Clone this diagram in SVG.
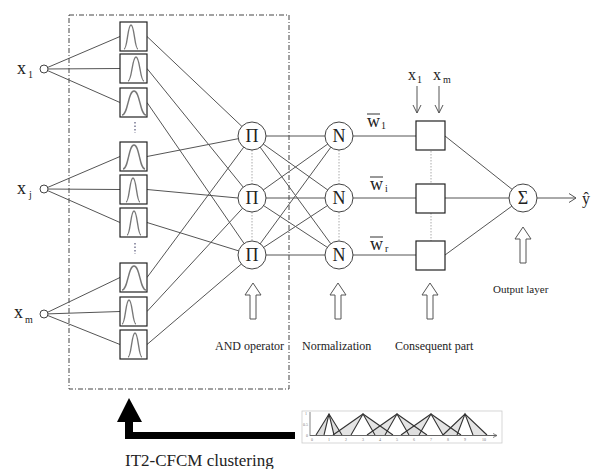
<svg xmlns="http://www.w3.org/2000/svg" width="598" height="469" viewBox="0 0 598 469">
<style>
.ln{stroke:#555;stroke-width:1;fill:none}
.dot{stroke:#aaa;stroke-width:1;stroke-dasharray:1.5,1.5;fill:none}
.node{fill:#fff;stroke:#444;stroke-width:1}
.mf{fill:#fff;stroke:#222;stroke-width:1.2}
.bell{fill:none;stroke:#777;stroke-width:1.4}
.hol{fill:#fff;stroke:#555;stroke-width:1}
text{font-family:"Liberation Serif","Times New Roman",serif;fill:#222}
.big{font-size:18px}
.sub{font-size:10px}
.lbl{font-size:12px}
.tick{font-size:4px;fill:#777}
</style>
<rect width="598" height="469" fill="#fff"/>
<rect x="69" y="15" width="220" height="374" fill="none" stroke="#444" stroke-width="1" stroke-dasharray="5,2,1,2"/>

<g id="connectors">
  <!-- inputs to MFs -->
  <line class="ln" x1="44" y1="69" x2="120" y2="36.5"/>
  <line class="ln" x1="44" y1="69" x2="120" y2="68.5"/>
  <line class="ln" x1="44" y1="69" x2="120" y2="102.5"/>
  <line class="ln" x1="44" y1="189" x2="120" y2="156.5"/>
  <line class="ln" x1="44" y1="189" x2="120" y2="189.5"/>
  <line class="ln" x1="44" y1="189" x2="120" y2="222.5"/>
  <line class="ln" x1="44" y1="314" x2="120" y2="277.5"/>
  <line class="ln" x1="44" y1="314" x2="120" y2="311.5"/>
  <line class="ln" x1="44" y1="314" x2="120" y2="344.5"/>
  <!-- MFs to Pi -->
  <line class="ln" x1="147" y1="36.5" x2="252" y2="136"/>
  <line class="ln" x1="147" y1="68.5" x2="252" y2="198"/>
  <line class="ln" x1="147" y1="102.5" x2="252" y2="255"/>
  <line class="ln" x1="147" y1="156.5" x2="252" y2="136"/>
  <line class="ln" x1="147" y1="189.5" x2="238" y2="198"/>
  <line class="ln" x1="147" y1="222.5" x2="252" y2="255"/>
  <line class="ln" x1="147" y1="277.5" x2="252" y2="136"/>
  <line class="ln" x1="147" y1="311.5" x2="252" y2="198"/>
  <line class="ln" x1="147" y1="344.5" x2="252" y2="255"/>
  <!-- Pi to N -->
  <line class="ln" x1="252" y1="136" x2="339" y2="136"/>
  <line class="ln" x1="252" y1="136" x2="339" y2="198"/>
  <line class="ln" x1="252" y1="136" x2="339" y2="255"/>
  <line class="ln" x1="252" y1="198" x2="339" y2="136"/>
  <line class="ln" x1="252" y1="198" x2="339" y2="198"/>
  <line class="ln" x1="252" y1="198" x2="339" y2="255"/>
  <line class="ln" x1="252" y1="255" x2="339" y2="136"/>
  <line class="ln" x1="252" y1="255" x2="339" y2="198"/>
  <line class="ln" x1="252" y1="255" x2="339" y2="255"/>
  <!-- N to consequent -->
  <line class="ln" x1="339" y1="136" x2="416" y2="136"/>
  <line class="ln" x1="339" y1="198" x2="416" y2="198"/>
  <line class="ln" x1="339" y1="255" x2="416" y2="255"/>
  <!-- consequent to sum -->
  <line class="ln" x1="445" y1="136" x2="523" y2="198"/>
  <line class="ln" x1="445" y1="198" x2="523" y2="198"/>
  <line class="ln" x1="445" y1="255" x2="523" y2="198"/>
  <!-- output -->
  <line class="ln" x1="537" y1="198" x2="576" y2="198"/>
  <polyline class="ln" points="569,193.5 576,198 569,202.5"/>
  <!-- inputs to consequent -->
  <line class="ln" x1="417" y1="86" x2="417" y2="113"/>
  <polyline class="ln" points="413,105 417,113 421,105"/>
  <line class="ln" x1="439" y1="86" x2="439" y2="113"/>
  <polyline class="ln" points="435,105 439,113 443,105"/>
  <!-- dotted vertical links -->
  <line class="dot" x1="252" y1="150" x2="252" y2="184"/>
  <line class="dot" x1="252" y1="212" x2="252" y2="241"/>
  <line class="dot" x1="339" y1="150" x2="339" y2="184"/>
  <line class="dot" x1="339" y1="212" x2="339" y2="241"/>
  <line class="dot" x1="431" y1="151" x2="431" y2="184"/>
  <line class="dot" x1="431" y1="213" x2="431" y2="241"/>
  <line x1="135" y1="122" x2="135" y2="133" stroke="#557" stroke-width="1.2" stroke-dasharray="1.5,2"/>
  <line x1="135" y1="243" x2="135" y2="254" stroke="#557" stroke-width="1.2" stroke-dasharray="1.5,2"/>
</g>

<g id="inputs">
  <circle class="node" cx="44" cy="69" r="4"/>
  <circle class="node" cx="44" cy="189" r="4"/>
  <circle class="node" cx="44" cy="314" r="4"/>
  <text class="big" x="17" y="74">x</text><text class="sub" x="28" y="78">1</text>
  <text class="big" x="17" y="194">x</text><text class="sub" x="29" y="198">j</text>
  <text class="big" x="14" y="318">x</text><text class="sub" x="25" y="323">m</text>
</g>

<g id="mf-layer">
  <rect class="mf" x="120" y="22" width="27" height="29"/>
  <path class="bell" d="M124,49 C127.5,49 127.5,25 131,25 C134.5,25 134.5,49 138,49"/>
  <rect class="mf" x="120" y="54" width="27" height="29"/>
  <path class="bell" d="M128,81 C132,81 132,57 136,57 C140,57 140,81 144,81"/>
  <rect class="mf" x="120" y="88" width="27" height="29"/>
  <path class="bell" d="M122,115 C128,115 128,91 134,91 C140,91 140,115 146,115"/>
  <rect class="mf" x="120" y="142" width="27" height="29"/>
  <path class="bell" d="M123,169 C128.5,169 128.5,145 134,145 C139.5,145 139.5,169 145,169"/>
  <rect class="mf" x="120" y="175" width="27" height="29"/>
  <path class="bell" d="M126,202 C129.5,202 129.5,178 133,178 C136.5,178 136.5,202 140,202"/>
  <rect class="mf" x="120" y="208" width="27" height="29"/>
  <path class="bell" d="M127,235 C130.5,235 130.5,211 134,211 C137.5,211 137.5,235 141,235"/>
  <rect class="mf" x="120" y="263" width="27" height="29"/>
  <path class="bell" d="M122,290 C128,290 128,266 134,266 C140,266 140,290 146,290"/>
  <rect class="mf" x="120" y="297" width="27" height="29"/>
  <path class="bell" d="M122,324 C125.5,324 125.5,300 129,300 C132.5,300 132.5,324 136,324"/>
  <rect class="mf" x="120" y="330" width="27" height="29"/>
  <path class="bell" d="M128,357 C131.5,357 131.5,333 135,333 C138.5,333 138.5,357 142,357"/>
</g>

<g id="and-layer">
  <circle class="node" cx="252" cy="136" r="14"/>
  <circle class="node" cx="252" cy="198" r="14"/>
  <circle class="node" cx="252" cy="255" r="14"/>
  <text class="big" x="252" y="142" text-anchor="middle" fill="#3a1c1c">Π</text>
  <text class="big" x="252" y="204" text-anchor="middle" fill="#3a1c1c">Π</text>
  <text class="big" x="252" y="261" text-anchor="middle" fill="#3a1c1c">Π</text>
</g>

<g id="norm-layer">
  <circle class="node" cx="339" cy="136" r="14"/>
  <circle class="node" cx="339" cy="198" r="14"/>
  <circle class="node" cx="339" cy="255" r="14"/>
  <text class="big" x="339" y="142" text-anchor="middle">N</text>
  <text class="big" x="339" y="204" text-anchor="middle">N</text>
  <text class="big" x="339" y="261" text-anchor="middle">N</text>
</g>

<g id="weights">
  <text class="big" x="367" y="127">w</text><line x1="367" y1="114" x2="380" y2="114" stroke="#333"/><text class="sub" x="381" y="129">1</text>
  <text class="big" x="370" y="190">w</text><line x1="370" y1="177" x2="383" y2="177" stroke="#333"/><text class="sub" x="385" y="192">i</text>
  <text class="big" x="370" y="250">w</text><line x1="370" y1="237" x2="383" y2="237" stroke="#333"/><text class="sub" x="385" y="252">r</text>
</g>

<g id="consequent-layer">
  <rect class="mf" x="416" y="121" width="29" height="29"/>
  <rect class="mf" x="416" y="184" width="29" height="29"/>
  <rect class="mf" x="416" y="241" width="29" height="29"/>
  <text x="408" y="80" style="font-size:16px">x</text><text class="sub" x="417" y="83">1</text>
  <text x="433" y="80" style="font-size:16px">x</text><text class="sub" x="443" y="83">m</text>
</g>

<g id="output-layer">
  <circle class="node" cx="523" cy="198" r="14"/>
  <text class="big" x="523" y="204" text-anchor="middle">Σ</text>
  <text x="582" y="204" style="font-size:16px">ŷ</text>
</g>

<g id="layer-arrows">
  <path class="hol" d="M253,283 L261,295 L256,295 L256,319 L250,319 L250,295 L245,295 Z"/>
  <path class="hol" d="M338,283 L346,295 L341,295 L341,319 L335,319 L335,295 L330,295 Z"/>
  <path class="hol" d="M430,283 L438,295 L433,295 L433,319 L427,319 L427,295 L422,295 Z"/>
  <path class="hol" d="M523,227 L531,239 L526,239 L526,263 L520,263 L520,239 L515,239 Z"/>
  <text class="lbl" x="215" y="350">AND operator</text>
  <text class="lbl" x="302" y="350">Normalization</text>
  <text class="lbl" x="395" y="350">Consequent part</text>
  <text class="lbl" x="493" y="293" style="font-size:11px">Output layer</text>
</g>

<g id="clustering">
  <path d="M125,439 L125,422 L117,422 L129,398 L142,422 L133,422 L133,432 L295,432 L295,439 Z" fill="#000"/>
  <text x="125" y="466" style="font-size:17px">IT2-CFCM clustering</text>
</g>

<g id="cluster-chart">
  <rect x="302" y="411" width="200" height="32" fill="#fff" stroke="#ccc" stroke-width="0.8"/>
  <path fill="#ddd" fill-rule="evenodd" stroke="none" d="M316,435 L329,414 L342,435 Z M324,435 L329,414 L334,435 Z"/>
  <path fill="#ddd" fill-opacity="0.8" fill-rule="evenodd" stroke="none" d="M333,435 L363,414 L393,435 Z M351,435 L363,414 L375,435 Z"/>
  <path fill="#ddd" fill-opacity="0.8" fill-rule="evenodd" stroke="none" d="M367,435 L397,414 L427,435 Z M385,435 L397,414 L409,435 Z"/>
  <path fill="#ddd" fill-opacity="0.8" fill-rule="evenodd" stroke="none" d="M401,435 L431,414 L461,435 Z M419,435 L431,414 L443,435 Z"/>
  <path fill="#ddd" fill-opacity="0.8" fill-rule="evenodd" stroke="none" d="M443,435 L465,414 L487,435 Z M457,435 L465,414 L473,435 Z"/>
  <g stroke="#333" stroke-width="1.1" fill="none">
    <polyline points="316,435 329,414 342,435"/><polyline points="324,435 329,414 334,435"/>
    <polyline points="333,435 363,414 393,435"/><polyline points="351,435 363,414 375,435"/>
    <polyline points="367,435 397,414 427,435"/><polyline points="385,435 397,414 409,435"/>
    <polyline points="401,435 431,414 461,435"/><polyline points="419,435 431,414 443,435"/>
    <polyline points="443,435 465,414 487,435"/><polyline points="457,435 465,414 473,435"/>
  </g>
  <line x1="310" y1="412" x2="310" y2="436" stroke="#666" stroke-width="0.8"/>
  <line x1="310" y1="435.5" x2="497" y2="435.5" stroke="#666" stroke-width="1"/>
  <polyline points="493,433.5 497,435.5 493,437.5" fill="none" stroke="#666" stroke-width="0.8"/>
  <text class="tick" x="305" y="415">1</text>
  <text class="tick" x="303" y="426">0.5</text>
  <text class="tick" x="306" y="437">0</text>
  <g class="tick" text-anchor="middle">
    <text class="tick" x="312" y="441">0</text><text class="tick" x="329" y="441">1</text><text class="tick" x="346" y="441">2</text>
    <text class="tick" x="363" y="441">3</text><text class="tick" x="380" y="441">4</text><text class="tick" x="397" y="441">5</text>
    <text class="tick" x="414" y="441">6</text><text class="tick" x="431" y="441">7</text><text class="tick" x="448" y="441">8</text>
    <text class="tick" x="465" y="441">9</text><text class="tick" x="484" y="441">10</text>
  </g>
</g>
</svg>
